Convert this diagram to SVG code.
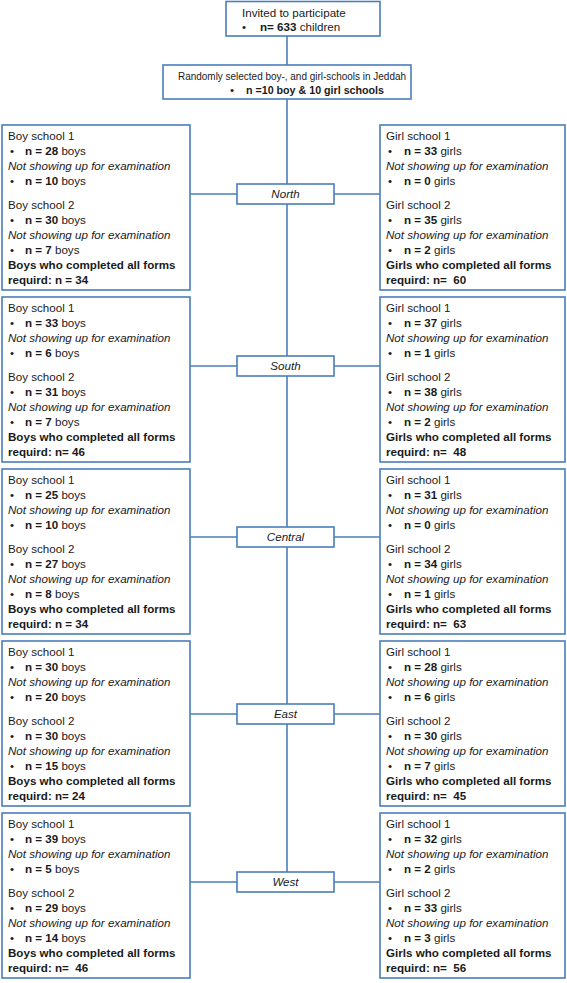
<svg xmlns="http://www.w3.org/2000/svg" width="567" height="983" viewBox="0 0 567 983">
<style>
.box{fill:#fff;stroke:#4a7ebb;stroke-width:1.6}
.ln{stroke:#4a7ebb;stroke-width:1.6;fill:none}
text{font-family:'Liberation Sans',Arial,sans-serif;font-size:11.6px;fill:#1a1a1a;white-space:pre}
.b{font-weight:bold}
.i{font-style:italic}
.c{text-anchor:middle}
</style>
<rect width="567" height="983" fill="#fff"/>
<g id="connectors">
<line class="ln" x1="287" y1="36" x2="287" y2="65"/>
<line class="ln" x1="287" y1="99" x2="287" y2="872"/>
<line class="ln" x1="190" y1="194" x2="380" y2="194"/>
<line class="ln" x1="190" y1="366" x2="380" y2="366"/>
<line class="ln" x1="190" y1="537" x2="380" y2="537"/>
<line class="ln" x1="190" y1="714" x2="380" y2="714"/>
<line class="ln" x1="190" y1="882" x2="380" y2="882"/>
</g>
<g id="invited">
<rect class="box" x="226" y="1.5" width="154" height="34.5"/>
<text x="242" y="17">Invited to participate</text>
<text x="242" y="31">•</text>
<text x="260" y="31"><tspan class="b">n= 633</tspan> children</text>
</g>
<g id="selected">
<rect class="box" x="163" y="65" width="248" height="34"/>
<text x="178" y="80" textLength="228" lengthAdjust="spacingAndGlyphs">Randomly selected boy-, and girl-schools in Jeddah</text>
<text x="230" y="94">•</text>
<text x="246" y="94" class="b" textLength="138" lengthAdjust="spacingAndGlyphs">n =10 boy &amp; 10 girl schools</text>
</g>

<!-- North -->
<g id="north-boys" transform="translate(0,125)">
<rect class="box" x="2" y="0" width="188" height="165"/>
<text x="8" y="15">Boy school 1</text>
<text x="10" y="30">•</text><text x="25" y="30"><tspan class="b">n = 28</tspan> boys</text>
<text x="8" y="45" class="i">Not showing up for examination</text>
<text x="10" y="60">•</text><text x="25" y="60"><tspan class="b">n = 10</tspan> boys</text>
<text x="8" y="84">Boy school 2</text>
<text x="10" y="99">•</text><text x="25" y="99"><tspan class="b">n = 30</tspan> boys</text>
<text x="8" y="114" class="i">Not showing up for examination</text>
<text x="10" y="129">•</text><text x="25" y="129"><tspan class="b">n = 7</tspan> boys</text>
<text x="8" y="144" class="b">Boys who completed all forms</text>
<text x="8" y="159" class="b">requird: n = 34</text>
</g>
<g id="north-girls" transform="translate(0,125)">
<rect class="box" x="380" y="0" width="185" height="165"/>
<text x="386" y="15">Girl school 1</text>
<text x="388" y="30">•</text><text x="404" y="30"><tspan class="b">n = 33</tspan> girls</text>
<text x="386" y="45" class="i">Not showing up for examination</text>
<text x="388" y="60">•</text><text x="404" y="60"><tspan class="b">n = 0</tspan> girls</text>
<text x="386" y="84">Girl school 2</text>
<text x="388" y="99">•</text><text x="404" y="99"><tspan class="b">n = 35</tspan> girls</text>
<text x="386" y="114" class="i">Not showing up for examination</text>
<text x="388" y="129">•</text><text x="404" y="129"><tspan class="b">n = 2</tspan> girls</text>
<text x="386" y="144" class="b">Girls who completed all forms</text>
<text x="386" y="159" class="b">requird: n=  60</text>
</g>
<g id="north">
<rect class="box" x="237" y="184" width="97" height="20"/>
<text x="285.5" y="198" class="c i">North</text>
</g>

<!-- South -->
<g id="south-boys" transform="translate(0,297)">
<rect class="box" x="2" y="0" width="188" height="165"/>
<text x="8" y="15">Boy school 1</text>
<text x="10" y="30">•</text><text x="25" y="30"><tspan class="b">n = 33</tspan> boys</text>
<text x="8" y="45" class="i">Not showing up for examination</text>
<text x="10" y="60">•</text><text x="25" y="60"><tspan class="b">n = 6</tspan> boys</text>
<text x="8" y="84">Boy school 2</text>
<text x="10" y="99">•</text><text x="25" y="99"><tspan class="b">n = 31</tspan> boys</text>
<text x="8" y="114" class="i">Not showing up for examination</text>
<text x="10" y="129">•</text><text x="25" y="129"><tspan class="b">n = 7</tspan> boys</text>
<text x="8" y="144" class="b">Boys who completed all forms</text>
<text x="8" y="159" class="b">requird: n= 46</text>
</g>
<g id="south-girls" transform="translate(0,297)">
<rect class="box" x="380" y="0" width="185" height="165"/>
<text x="386" y="15">Girl school 1</text>
<text x="388" y="30">•</text><text x="404" y="30"><tspan class="b">n = 37</tspan> girls</text>
<text x="386" y="45" class="i">Not showing up for examination</text>
<text x="388" y="60">•</text><text x="404" y="60"><tspan class="b">n = 1</tspan> girls</text>
<text x="386" y="84">Girl school 2</text>
<text x="388" y="99">•</text><text x="404" y="99"><tspan class="b">n = 38</tspan> girls</text>
<text x="386" y="114" class="i">Not showing up for examination</text>
<text x="388" y="129">•</text><text x="404" y="129"><tspan class="b">n = 2</tspan> girls</text>
<text x="386" y="144" class="b">Girls who completed all forms</text>
<text x="386" y="159" class="b">requird: n=  48</text>
</g>
<g id="south">
<rect class="box" x="237" y="356" width="97" height="20"/>
<text x="285.5" y="370" class="c i">South</text>
</g>

<!-- Central -->
<g id="central-boys" transform="translate(0,469)">
<rect class="box" x="2" y="0" width="188" height="165"/>
<text x="8" y="15">Boy school 1</text>
<text x="10" y="30">•</text><text x="25" y="30"><tspan class="b">n = 25</tspan> boys</text>
<text x="8" y="45" class="i">Not showing up for examination</text>
<text x="10" y="60">•</text><text x="25" y="60"><tspan class="b">n = 10</tspan> boys</text>
<text x="8" y="84">Boy school 2</text>
<text x="10" y="99">•</text><text x="25" y="99"><tspan class="b">n = 27</tspan> boys</text>
<text x="8" y="114" class="i">Not showing up for examination</text>
<text x="10" y="129">•</text><text x="25" y="129"><tspan class="b">n = 8</tspan> boys</text>
<text x="8" y="144" class="b">Boys who completed all forms</text>
<text x="8" y="159" class="b">requird: n = 34</text>
</g>
<g id="central-girls" transform="translate(0,469)">
<rect class="box" x="380" y="0" width="185" height="165"/>
<text x="386" y="15">Girl school 1</text>
<text x="388" y="30">•</text><text x="404" y="30"><tspan class="b">n = 31</tspan> girls</text>
<text x="386" y="45" class="i">Not showing up for examination</text>
<text x="388" y="60">•</text><text x="404" y="60"><tspan class="b">n = 0</tspan> girls</text>
<text x="386" y="84">Girl school 2</text>
<text x="388" y="99">•</text><text x="404" y="99"><tspan class="b">n = 34</tspan> girls</text>
<text x="386" y="114" class="i">Not showing up for examination</text>
<text x="388" y="129">•</text><text x="404" y="129"><tspan class="b">n = 1</tspan> girls</text>
<text x="386" y="144" class="b">Girls who completed all forms</text>
<text x="386" y="159" class="b">requird: n=  63</text>
</g>
<g id="central">
<rect class="box" x="237" y="527" width="97" height="20"/>
<text x="285.5" y="541" class="c i">Central</text>
</g>

<!-- East -->
<g id="east-boys" transform="translate(0,641)">
<rect class="box" x="2" y="0" width="188" height="165"/>
<text x="8" y="15">Boy school 1</text>
<text x="10" y="30">•</text><text x="25" y="30"><tspan class="b">n = 30</tspan> boys</text>
<text x="8" y="45" class="i">Not showing up for examination</text>
<text x="10" y="60">•</text><text x="25" y="60"><tspan class="b">n = 20</tspan> boys</text>
<text x="8" y="84">Boy school 2</text>
<text x="10" y="99">•</text><text x="25" y="99"><tspan class="b">n = 30</tspan> boys</text>
<text x="8" y="114" class="i">Not showing up for examination</text>
<text x="10" y="129">•</text><text x="25" y="129"><tspan class="b">n = 15</tspan> boys</text>
<text x="8" y="144" class="b">Boys who completed all forms</text>
<text x="8" y="159" class="b">requird: n= 24</text>
</g>
<g id="east-girls" transform="translate(0,641)">
<rect class="box" x="380" y="0" width="185" height="165"/>
<text x="386" y="15">Girl school 1</text>
<text x="388" y="30">•</text><text x="404" y="30"><tspan class="b">n = 28</tspan> girls</text>
<text x="386" y="45" class="i">Not showing up for examination</text>
<text x="388" y="60">•</text><text x="404" y="60"><tspan class="b">n = 6</tspan> girls</text>
<text x="386" y="84">Girl school 2</text>
<text x="388" y="99">•</text><text x="404" y="99"><tspan class="b">n = 30</tspan> girls</text>
<text x="386" y="114" class="i">Not showing up for examination</text>
<text x="388" y="129">•</text><text x="404" y="129"><tspan class="b">n = 7</tspan> girls</text>
<text x="386" y="144" class="b">Girls who completed all forms</text>
<text x="386" y="159" class="b">requird: n=  45</text>
</g>
<g id="east">
<rect class="box" x="237" y="704" width="97" height="20"/>
<text x="285.5" y="718" class="c i">East</text>
</g>

<!-- West -->
<g id="west-boys" transform="translate(0,813)">
<rect class="box" x="2" y="0" width="188" height="165"/>
<text x="8" y="15">Boy school 1</text>
<text x="10" y="30">•</text><text x="25" y="30"><tspan class="b">n = 39</tspan> boys</text>
<text x="8" y="45" class="i">Not showing up for examination</text>
<text x="10" y="60">•</text><text x="25" y="60"><tspan class="b">n = 5</tspan> boys</text>
<text x="8" y="84">Boy school 2</text>
<text x="10" y="99">•</text><text x="25" y="99"><tspan class="b">n = 29</tspan> boys</text>
<text x="8" y="114" class="i">Not showing up for examination</text>
<text x="10" y="129">•</text><text x="25" y="129"><tspan class="b">n = 14</tspan> boys</text>
<text x="8" y="144" class="b">Boys who completed all forms</text>
<text x="8" y="159" class="b">requird: n=  46</text>
</g>
<g id="west-girls" transform="translate(0,813)">
<rect class="box" x="380" y="0" width="185" height="165"/>
<text x="386" y="15">Girl school 1</text>
<text x="388" y="30">•</text><text x="404" y="30"><tspan class="b">n = 32</tspan> girls</text>
<text x="386" y="45" class="i">Not showing up for examination</text>
<text x="388" y="60">•</text><text x="404" y="60"><tspan class="b">n = 2</tspan> girls</text>
<text x="386" y="84">Girl school 2</text>
<text x="388" y="99">•</text><text x="404" y="99"><tspan class="b">n = 33</tspan> girls</text>
<text x="386" y="114" class="i">Not showing up for examination</text>
<text x="388" y="129">•</text><text x="404" y="129"><tspan class="b">n = 3</tspan> girls</text>
<text x="386" y="144" class="b">Girls who completed all forms</text>
<text x="386" y="159" class="b">requird: n=  56</text>
</g>
<g id="west">
<rect class="box" x="237" y="872" width="97" height="20"/>
<text x="285.5" y="886" class="c i">West</text>
</g>
</svg>
